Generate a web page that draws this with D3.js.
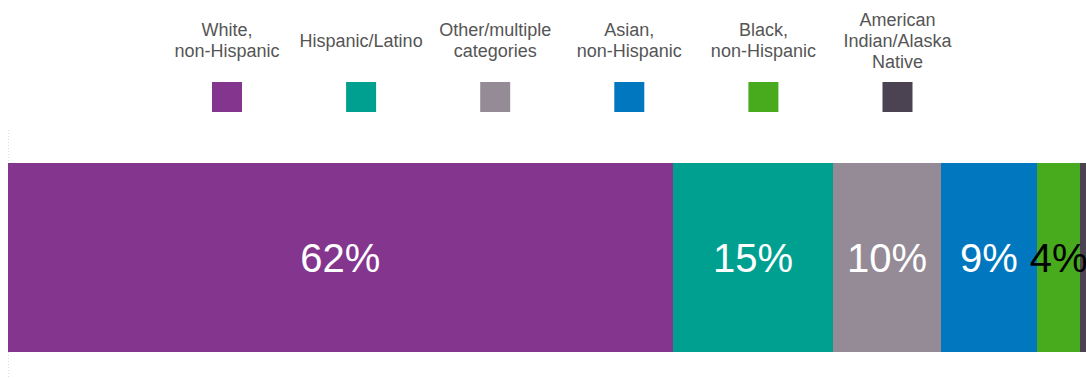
<!DOCTYPE html>
<html>
<head>
<meta charset="utf-8">
<script src="https://cdn.jsdelivr.net/npm/d3@7"></script>
<style>
  html, body { margin: 0; padding: 0; background: #fff; overflow: hidden; }
  svg { display: block; font-family: "Liberation Sans", Arial, sans-serif; }
</style>
</head>
<body>
<svg id="chart" width="1086" height="378"></svg>
<script>
// Share of population by race/ethnicity (percent)
const categories = [
  "White, non-Hispanic",
  "Hispanic/Latino",
  "Other/multiple categories",
  "Asian, non-Hispanic",
  "Black, non-Hispanic",
  "American Indian/Alaska Native"
];
// Legend text, broken into lines
const legendLines = [
  ["White,", "non-Hispanic"],
  ["Hispanic/Latino"],
  ["Other/multiple", "categories"],
  ["Asian,", "non-Hispanic"],
  ["Black,", "non-Hispanic"],
  ["American", "Indian/Alaska", "Native"]
];
const values = [62, 15, 10, 9, 4, 0.8];
const valueLabels = ["62%", "15%", "10%", "9%", "4%", ""];
const colors = ["#84368e", "#00a091", "#958b97", "#0077bf", "#48ab1e", "#4b4352"];
const labelColors = ["#fff", "#fff", "#fff", "#fff", "#000", "#fff"];

const svg = d3.select("#chart");
const W = 1086, H = 378;

// Cumulative stack
const stacked = [];
let acc = 0;
values.forEach((v, i) => {
  stacked.push({ i, key: categories[i], x0: acc, x1: acc + v, label: valueLabels[i] });
  acc += v;
});

const x = d3.scaleLinear().domain([0, 100]).range([8, 1080]);
const y = d3.scaleBand().domain(["all"]).range([163, 352]).padding(0);

// Clip everything to the drawing area
svg.append("defs").append("clipPath").attr("id", "clip")
  .append("rect").attr("x", 0).attr("y", 0).attr("width", W).attr("height", H);

// Faint dotted baseline axis
svg.append("line")
  .attr("x1", x(0) + 0.5).attr("x2", x(0) + 0.5)
  .attr("y1", 130).attr("y2", H)
  .attr("stroke", "#dcdcdc").attr("stroke-width", 1)
  .attr("stroke-dasharray", "1,2");

const g = svg.append("g").attr("clip-path", "url(#clip)");

g.selectAll("rect.seg")
  .data(stacked)
  .join("rect")
  .attr("class", "seg")
  .attr("x", d => Math.round(x(d.x0)))
  .attr("width", d => Math.round(x(d.x1)) - Math.round(x(d.x0)))
  .attr("y", y("all"))
  .attr("height", y.bandwidth())
  .attr("shape-rendering", "crispEdges")
  .attr("fill", d => colors[d.i]);

const fs = 40;
g.selectAll("text.val")
  .data(stacked.filter(d => d.label))
  .join("text")
  .attr("class", "val")
  .attr("x", d => (x(d.x0) + x(d.x1)) / 2)
  .attr("y", y("all") + y.bandwidth() / 2 + fs * 0.35)
  .attr("text-anchor", "middle")
  .attr("font-size", fs)
  .attr("fill", d => labelColors[d.i])
  .text(d => d.label);

// Legend: text above a square swatch for each category
const lx = d3.scalePoint().domain(categories).range([227, 897.5]);
const lineH = 21;
const midBase = 46.5;
const legend = svg.append("g")
  .selectAll("g.item")
  .data(categories)
  .join("g")
  .attr("class", "item")
  .attr("transform", d => `translate(${lx(d)},0)`);

legend.append("rect")
  .attr("x", -15).attr("y", 82)
  .attr("width", 30).attr("height", 30)
  .attr("fill", (d, i) => colors[i]);

legend.each(function(d, i) {
  const lines = legendLines[i];
  const t = d3.select(this).append("text")
    .attr("text-anchor", "middle")
    .attr("font-size", 18)
    .attr("fill", "#555555");
  lines.forEach((ln, j) => {
    t.append("tspan")
      .attr("x", 0)
      .attr("y", midBase + (j - (lines.length - 1) / 2) * lineH)
      .text(ln);
  });
});
</script>
</body>
</html>
